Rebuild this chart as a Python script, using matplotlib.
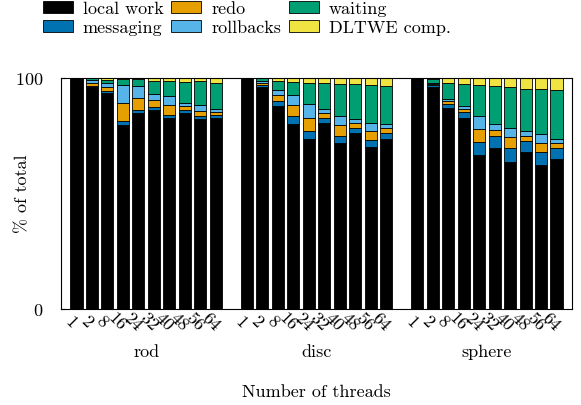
import numpy as np
import matplotlib
matplotlib.use("Agg")
import matplotlib.pyplot as plt

plt.rcParams['font.family'] = ['cmr10', 'DejaVu Serif']
plt.rcParams['axes.formatter.use_mathtext'] = True
plt.rcParams['font.size'] = 13

groups = ["rod", "disc", "sphere"]
threads = ["1", "2", "8", "16", "24", "32", "40", "48", "56", "64"]
labels = ["local work", "messaging", "redo", "rollbacks", "waiting", "DLTWE comp."]
colors = ["#000000", "#0072B2", "#E69F00", "#56B4E9", "#009E73", "#F0E442"]

# percent of total, one list per group, per component (bottom to top)
local_work = [
    [99.6, 95.8, 93.1, 79.6, 84.8, 86.0, 82.6, 84.5, 81.9, 82.4],
    [99.7, 95.8, 87.8, 80.0, 73.5, 80.5, 71.6, 76.1, 69.8, 73.5],
    [99.6, 95.9, 86.8, 82.6, 66.6, 69.6, 63.4, 68.0, 62.2, 64.7],
]
messaging = [
    [0.1, 0.4, 1.0, 1.6, 1.2, 1.4, 1.3, 1.3, 1.3, 1.4],
    [0.1, 0.9, 2.2, 3.2, 3.6, 2.2, 3.2, 2.3, 3.3, 2.6],
    [0.1, 0.9, 1.7, 2.3, 5.5, 5.2, 6.2, 4.5, 5.8, 4.8],
]
redo = [
    [0.1, 1.4, 1.9, 7.8, 5.2, 2.7, 4.1, 1.7, 2.5, 1.4],
    [0.0, 1.0, 2.5, 4.8, 5.6, 1.9, 4.5, 1.9, 3.8, 2.0],
    [0.0, 0.5, 1.2, 1.4, 5.6, 2.6, 4.5, 2.2, 3.8, 2.2],
]
rollbacks = [
    [0.1, 1.5, 1.8, 7.7, 5.1, 2.6, 3.8, 1.6, 2.6, 1.4],
    [0.0, 0.9, 2.3, 4.3, 5.9, 1.7, 4.1, 1.6, 3.6, 1.9],
    [0.0, 0.5, 1.2, 1.3, 5.5, 2.3, 4.2, 2.0, 3.6, 1.9],
]
waiting = [
    [0.1, 0.5, 1.3, 2.5, 2.9, 5.8, 6.8, 9.0, 10.1, 11.1],
    [0.1, 1.0, 3.8, 5.8, 9.1, 11.4, 14.0, 15.1, 16.2, 16.4],
    [0.2, 1.6, 6.9, 9.4, 13.7, 16.6, 17.7, 18.5, 19.5, 21.0],
]
dltwe = [
    [0.0, 0.4, 0.5, 0.9, 0.8, 1.4, 1.4, 1.9, 1.6, 2.3],
    [0.1, 0.4, 1.4, 1.9, 2.2, 2.3, 2.6, 3.0, 3.3, 3.6],
    [0.1, 0.6, 2.2, 2.9, 3.0, 3.6, 4.1, 4.8, 5.1, 5.5],
]
series = [local_work, messaging, redo, rollbacks, waiting, dltwe]

fig = plt.figure(figsize=(5.81, 4.06), dpi=100)
ax = fig.add_axes([61 / 581, 1 - 310 / 406, (572 - 61) / 581, (310 - 78.5) / 406])

n = len(threads)
xticks, xlabels = [], []
for g, name in enumerate(groups):
    x = np.arange(n) + g * (n + 1)
    bottom = np.zeros(n)
    for s, (lab, col) in enumerate(zip(labels, colors)):
        vals = np.array(series[s][g])
        ax.bar(x, vals, 0.78, bottom=bottom, color=col, edgecolor="black",
               linewidth=0.6, label=lab if g == 0 else None)
        bottom += vals
    xticks.extend(x)
    xlabels.extend(threads)
    ax.text(x.mean(), -0.185, name, transform=ax.get_xaxis_transform(),
            ha="center", va="center")

ax.set_xlim(-1, 3 * n + 2)
ax.set_ylim(0, 100)
ax.set_yticks([0, 100])
ax.set_xticks(xticks)
ax.set_xticklabels(xlabels, rotation=-45, rotation_mode="anchor", ha="center", va="top")
ax.tick_params(axis="x", length=0, pad=5)
ax.tick_params(axis="y", direction="in", length=3, pad=13)
ax.set_ylabel("% of total")
ax.yaxis.set_label_coords((30 - 61) / 511, 0.5)
ax.text(0.5, -0.354, "Number of threads", transform=ax.transAxes, ha="center", va="center")

fig.legend(loc="upper left", bbox_to_anchor=(32 / 581, 1.022), ncol=3, frameon=False,
           borderpad=0.1, handlelength=1.65, handleheight=0.6, handletextpad=0.55,
           columnspacing=0.45, labelspacing=0.2)

fig.savefig("out.png", dpi=100)
